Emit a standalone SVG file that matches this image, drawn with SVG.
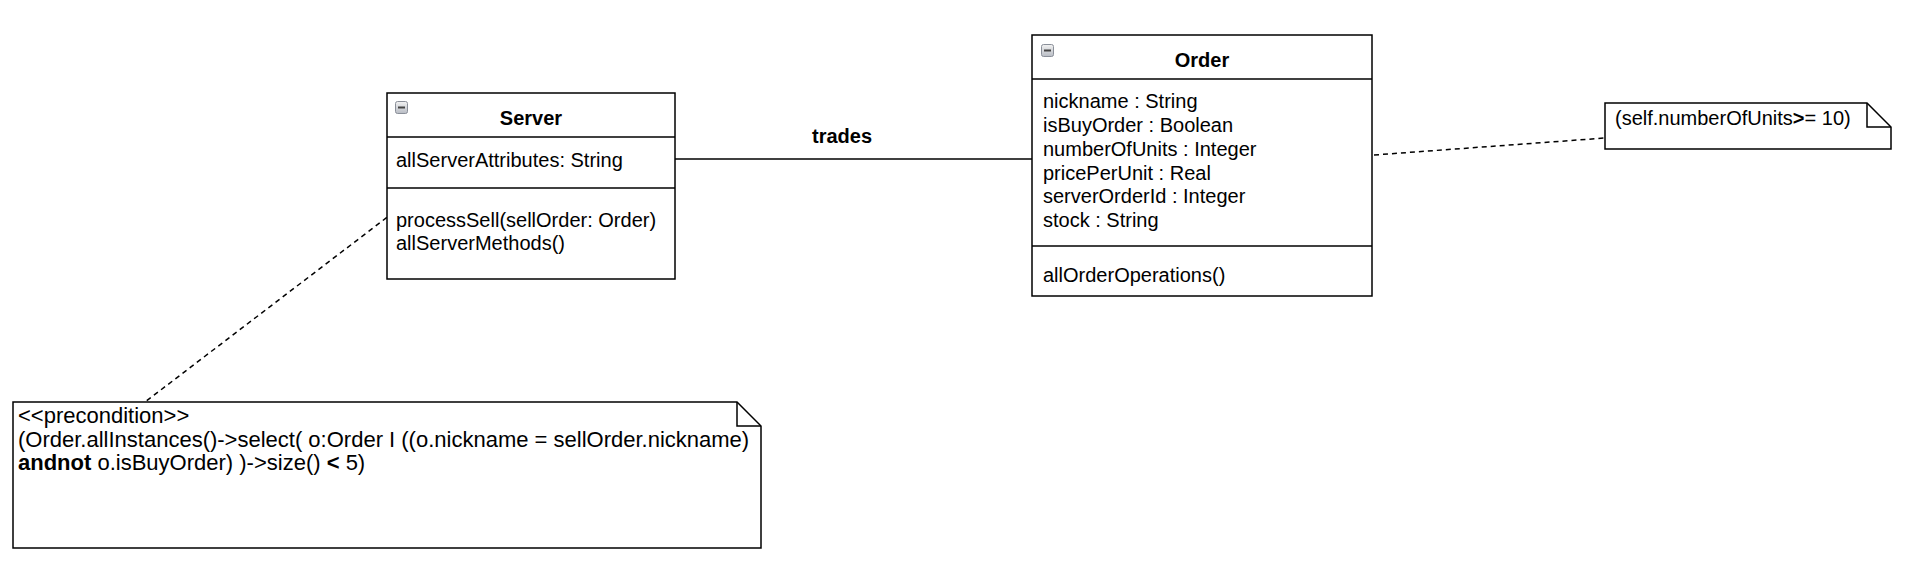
<svg xmlns="http://www.w3.org/2000/svg" width="1910" height="566" viewBox="0 0 1910 566">
<style>
.box{fill:#fff;stroke:#000;stroke-width:1.5}
.sep{stroke:#000;stroke-width:1.5;fill:none}
.t{font-family:"Liberation Sans",Arial,sans-serif;font-size:20px;fill:#000}
.nt{font-family:"Liberation Sans",Arial,sans-serif;font-size:22px;fill:#000}
.b{font-weight:bold}
.title{font-family:"Liberation Sans",Arial,sans-serif;font-size:20px;font-weight:bold;fill:#000;text-anchor:middle}
.dash{stroke:#000;stroke-width:1.5;stroke-dasharray:5 4;fill:none}
.line{stroke:#000;stroke-width:1.5;fill:none}
</style>
<defs>
<linearGradient id="ig" x1="0" y1="0" x2="0" y2="1">
<stop offset="0" stop-color="#f2f2f2"/>
<stop offset="1" stop-color="#b8bcc4"/>
</linearGradient>
<g id="icon">
<rect x="0.5" y="0.5" width="12" height="12" rx="2" fill="url(#ig)" stroke="#8a8f99" stroke-width="1"/>
<rect x="3" y="5.5" width="7" height="2" fill="#444"/>
</g>
</defs>
<rect width="1910" height="566" fill="#fff"/>

<g id="connectors">
<line class="line" x1="675" y1="159" x2="1032" y2="159"/>
<text class="title" x="842" y="143">trades</text>
<line class="dash" x1="1374" y1="155" x2="1605" y2="138"/>
<line class="dash" x1="394" y1="212" x2="145" y2="402"/>
</g>

<g id="server">
<rect class="box" x="387" y="93" width="288" height="186"/>
<use href="#icon" x="395" y="101"/>
<text class="title" x="531" y="125">Server</text>
<line class="sep" x1="387" y1="137" x2="675" y2="137"/>
<text class="t" x="396" y="167">allServerAttributes: String</text>
<line class="sep" x1="387" y1="188" x2="675" y2="188"/>
<text class="t" x="396" y="227">processSell(sellOrder: Order)</text>
<text class="t" x="396" y="250">allServerMethods()</text>
</g>

<g id="order">
<rect class="box" x="1032" y="35" width="340" height="261"/>
<use href="#icon" x="1041" y="44"/>
<text class="title" x="1202" y="67">Order</text>
<line class="sep" x1="1032" y1="79" x2="1372" y2="79"/>
<text class="t" x="1043" y="108">nickname : String</text>
<text class="t" x="1043" y="132">isBuyOrder : Boolean</text>
<text class="t" x="1043" y="155.5">numberOfUnits : Integer</text>
<text class="t" x="1043" y="179.5">pricePerUnit : Real</text>
<text class="t" x="1043" y="203">serverOrderId : Integer</text>
<text class="t" x="1043" y="227">stock : String</text>
<line class="sep" x1="1032" y1="246" x2="1372" y2="246"/>
<text class="t" x="1043" y="282">allOrderOperations()</text>
</g>

<g id="note-units">
<path class="box" d="M1605,103 H1867 L1891,127 V149 H1605 Z"/>
<path class="sep" d="M1867,103 V127 H1891"/>
<text class="t" x="1615" y="125">(self.numberOfUnits<tspan class="b">&gt;</tspan>= 10)</text>
</g>

<g id="note-precondition">
<path class="box" d="M13,402 H737 L761,426 V548 H13 Z"/>
<path class="sep" d="M737,402 V426 H761"/>
<text class="nt" x="18" y="423">&lt;&lt;precondition&gt;&gt;</text>
<text class="nt" x="18" y="446.5">(Order.allInstances()-&gt;select( o:Order I ((o.nickname = sellOrder.nickname)</text>
<text class="nt" x="18" y="470"><tspan class="b">andnot</tspan> o.isBuyOrder) )-&gt;size() <tspan class="b">&lt;</tspan> 5)</text>
</g>
</svg>
